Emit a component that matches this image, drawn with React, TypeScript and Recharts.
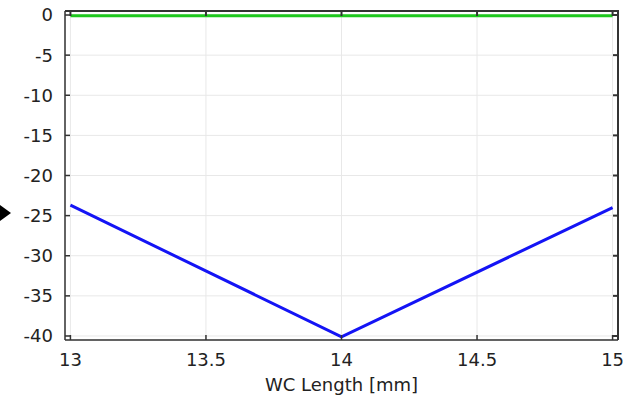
import React from 'react';
import {
  LineChart,
  Line,
  XAxis,
  YAxis,
  CartesianGrid,
} from 'recharts';

const wcLength = [13, 14, 15];
const blueSeries = [-23.7, -40.1, -24.0];
const greenSeries = [-0.1, -0.1, -0.1];
const xTicks = [13, 13.5, 14, 14.5, 15];
const yTicks = [0, -5, -10, -15, -20, -25, -30, -35, -40];
const xDomain = [12.98, 15.02];
const yDomain = [-40.5, 0.5];

const data = wcLength.map((x, i) => ({ x, blue: blueSeries[i], green: greenSeries[i] }));

const W = 629;
const H = 395;
const margin = { top: 11, right: 11, left: 0, bottom: 0 };
const yAxisW = 65;
const xAxisH = 55;
const plotL = margin.left + yAxisW;
const plotT = margin.top;
const plotW = W - margin.right - plotL;
const plotH = H - xAxisH - plotT;
const sx = (v: number) => plotL + ((v - xDomain[0]) / (xDomain[1] - xDomain[0])) * plotW;
const sy = (v: number) => plotT + ((yDomain[1] - v) / (yDomain[1] - yDomain[0])) * plotH;

const tickFont = { fontSize: 18, fill: '#222', fontFamily: 'DejaVu Sans' };
const frameColor = '#333';
const frame = { stroke: frameColor, strokeWidth: 1.5 };

// top and right edges of the box, with inward ticks like the bottom/left axes
const FrameOverlay: React.FC = () => (
  <svg width={W} height={H} style={{ position: 'absolute', left: 0, top: 0, pointerEvents: 'none', zIndex: 2 }}>
    <g stroke={frameColor} strokeWidth={2} fill="none">
      <path d={`M${plotL},${plotT}H${plotL + plotW}V${plotT + plotH}`} />
      {xTicks.map((t) => (
        <line key={`tx${t}`} x1={sx(t)} y1={plotT} x2={sx(t)} y2={plotT + 5} />
      ))}
      {yTicks.map((t) => (
        <line key={`ty${t}`} x1={plotL + plotW} y1={sy(t)} x2={plotL + plotW - 5} y2={sy(t)} />
      ))}
    </g>
  </svg>
);

const App: React.FC = () => {
  return (
    <div style={{ position: 'absolute', top: 0, left: 0, width: W, height: H, background: '#fff', overflow: 'hidden' }}>
      <LineChart width={W} height={H} data={data} margin={margin}>
        <CartesianGrid xAxisId="b" yAxisId="l" stroke="#e8e8e8" strokeWidth={1} />
        <XAxis
          xAxisId="b"
          dataKey="x"
          type="number"
          domain={xDomain}
          ticks={xTicks}
          allowDataOverflow
          height={xAxisH}
          tick={tickFont}
          tickSize={-5}
          tickMargin={18}
          tickLine={frame}
          axisLine={frame}
          label={{ value: 'WC Length [mm]', position: 'insideBottom', offset: 4, style: { fontSize: 18, fill: '#222', fontFamily: 'DejaVu Sans' } }}
        />
        <YAxis
          yAxisId="l"
          type="number"
          domain={yDomain}
          ticks={yTicks}
          allowDataOverflow
          width={yAxisW}
          tick={tickFont}
          tickSize={-5}
          tickMargin={17}
          tickLine={frame}
          axisLine={frame}
        />
        <Line
          xAxisId="b"
          yAxisId="l"
          type="linear"
          dataKey="green"
          stroke="#1ec81e"
          strokeWidth={3}
          dot={false}
          isAnimationActive={false}
        />
        <Line
          xAxisId="b"
          yAxisId="l"
          type="linear"
          dataKey="blue"
          stroke="#1414f5"
          strokeWidth={3}
          dot={false}
          isAnimationActive={false}
        />
      </LineChart>
      <FrameOverlay />
      {/* pointer marker on the left edge */}
      <svg width={14} height={18} style={{ position: 'absolute', left: 0, top: 204, zIndex: 2 }}>
        <polygon points="0,1 11,9 0,17" fill="#000" />
      </svg>
    </div>
  );
};

export default App;
